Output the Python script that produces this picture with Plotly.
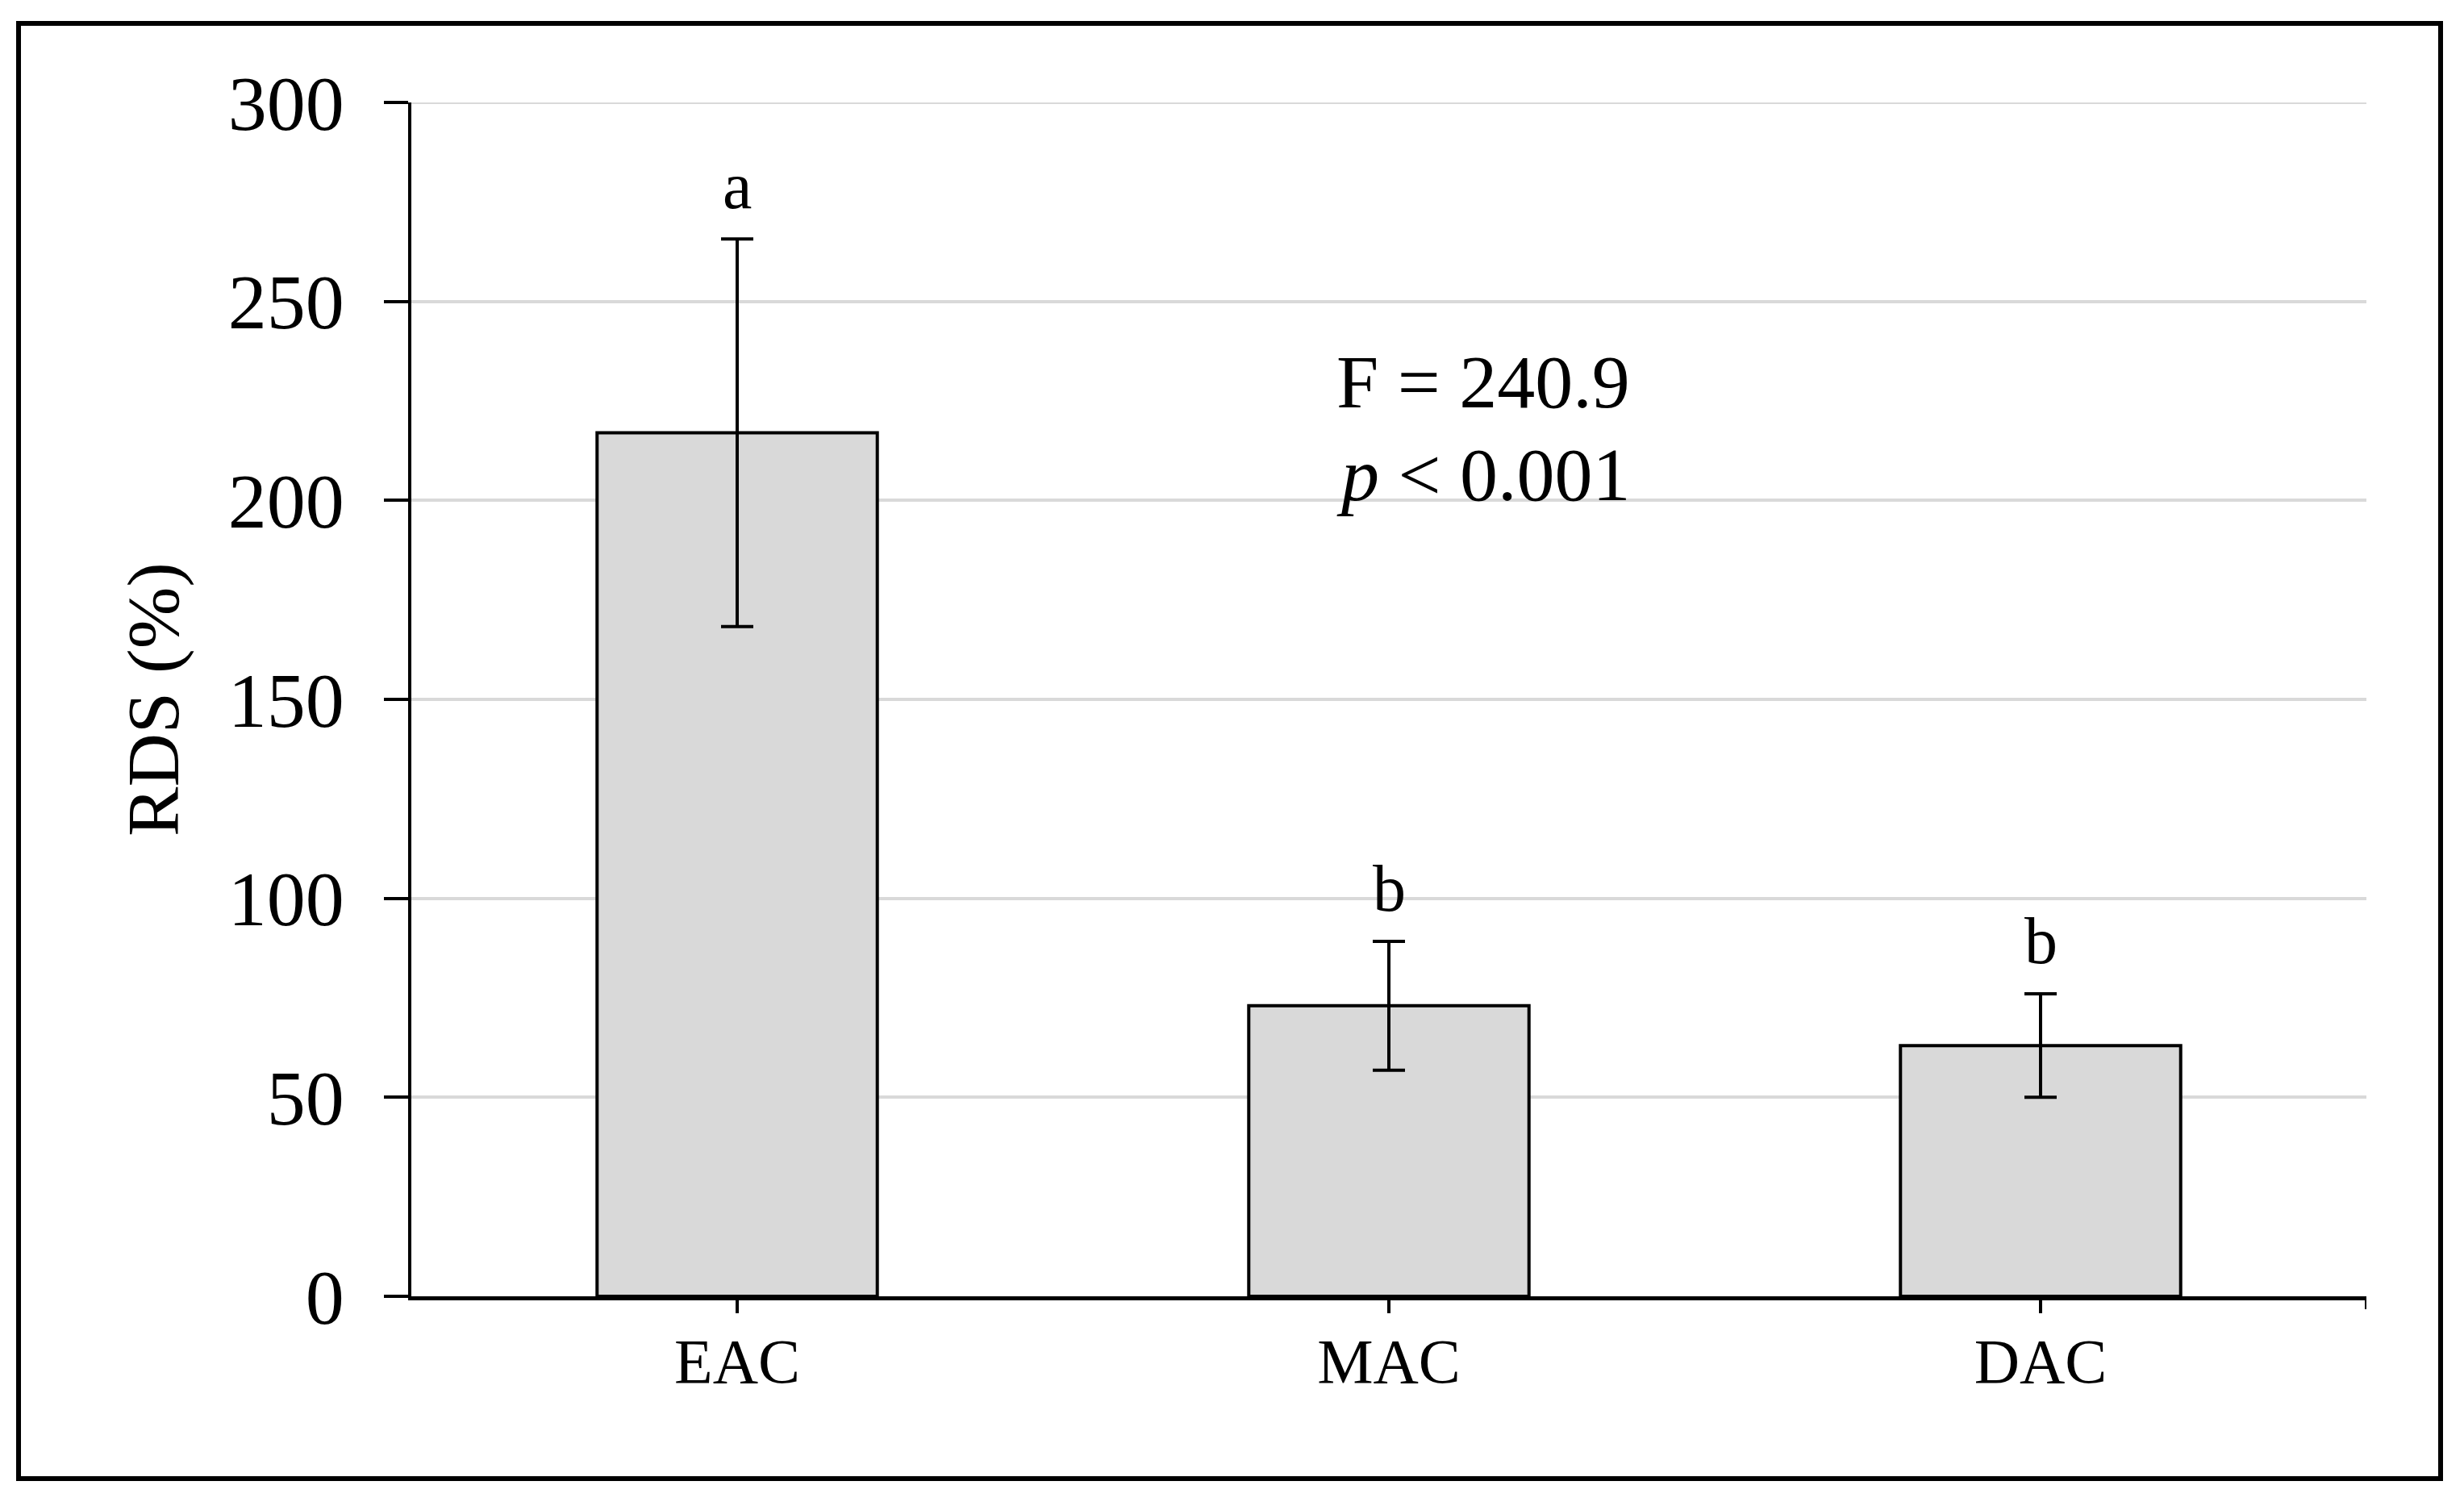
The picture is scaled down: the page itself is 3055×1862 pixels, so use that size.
import plotly.graph_objects as go

categories = ["EAC", "MAC", "DAC"]
rds_mean = [217, 73, 63]
rds_err = [48.7, 16.2, 13]
sig_letters = ["a", "b", "b"]
y_ticks = [0, 50, 100, 150, 200, 250, 300]
stat_f = "F = 240.9"
stat_p = "<i>p</i> &lt; 0.001"

FONT = "Liberation Serif"
OFF = 8  # default page body margin
W, H = 3055 - 2 * OFF, 1862 - 2 * OFF
L, T = 510 - OFF, 127 - OFF
R, B = W - (2934 - OFF), H - (1607 - OFF)
pw, ph = W - L - R, H - T - B

def px_x(px):
    return (px - OFF - L) / pw

def px_y(py):
    return (H - B - (py - OFF)) / ph

fig = go.Figure()
fig.add_trace(go.Bar(
    x=categories, y=rds_mean,
    marker=dict(color="#d9d9d9", line=dict(color="black", width=4)),
    error_y=dict(type="data", array=rds_err, visible=True,
                 color="black", thickness=4, width=20),
    width=0.43,
))

for c, m, e, s in zip(categories, rds_mean, rds_err, sig_letters):
    fig.add_annotation(x=c, y=m + e, text=s, showarrow=False,
                       yanchor="bottom", yshift=18,
                       font=dict(family=FONT, size=82, color="black"))

fig.add_annotation(xref="paper", yref="paper", x=px_x(1655), y=px_y(473),
                   text=stat_f, showarrow=False, xanchor="left", yanchor="middle",
                   font=dict(family=FONT, size=94, color="black"))
fig.add_annotation(xref="paper", yref="paper", x=px_x(1655), y=px_y(588),
                   text=stat_p, showarrow=False, xanchor="left", yanchor="middle",
                   font=dict(family=FONT, size=94, color="black"))

# top gridline (hidden by plotly at the range edge)
fig.add_shape(type="line", xref="paper", yref="y", x0=0, x1=1,
              y0=max(y_ticks), y1=max(y_ticks),
              line=dict(color="#d9d9d9", width=4), layer="below")

# right-end tick of the x axis
fig.add_shape(type="line", xref="x", yref="paper", x0=2.5, x1=2.5,
              y0=0, y1=-16 / ph, line=dict(color="black", width=4))

# outer frame
fig.add_shape(type="rect", xref="paper", yref="paper",
              x0=px_x(23), x1=px_x(3026), y0=px_y(1833), y1=px_y(29),
              line=dict(color="black", width=6), fillcolor="rgba(0,0,0,0)")

fig.update_layout(
    width=W, height=H,
    margin=dict(l=L, r=R, t=T, b=B),
    paper_bgcolor="white", plot_bgcolor="white",
    showlegend=False,
    bargap=0.57,
    font=dict(family=FONT, color="black"),
)
fig.update_xaxes(
    showline=True, linecolor="black", linewidth=5,
    ticks="outside", ticklen=16, tickwidth=4, tickcolor="black",
    tickfont=dict(family=FONT, size=78, color="black"),
    ticklabelstandoff=-8,
    showgrid=False, range=[-0.5, 2.5],
)
fig.update_yaxes(
    range=[0, 300], tickvals=y_ticks,
    showline=True, linecolor="black", linewidth=4,
    ticks="outside", ticklen=30, tickwidth=4, tickcolor="black",
    tickfont=dict(family=FONT, size=96, color="black"),
    ticklabelstandoff=30,
    showgrid=True, gridcolor="#d9d9d9", gridwidth=4,
    zeroline=False,
    title=dict(text="RDS (%)", font=dict(family=FONT, size=92, color="black"),
               standoff=32),
)

fig.write_html("out.html")
